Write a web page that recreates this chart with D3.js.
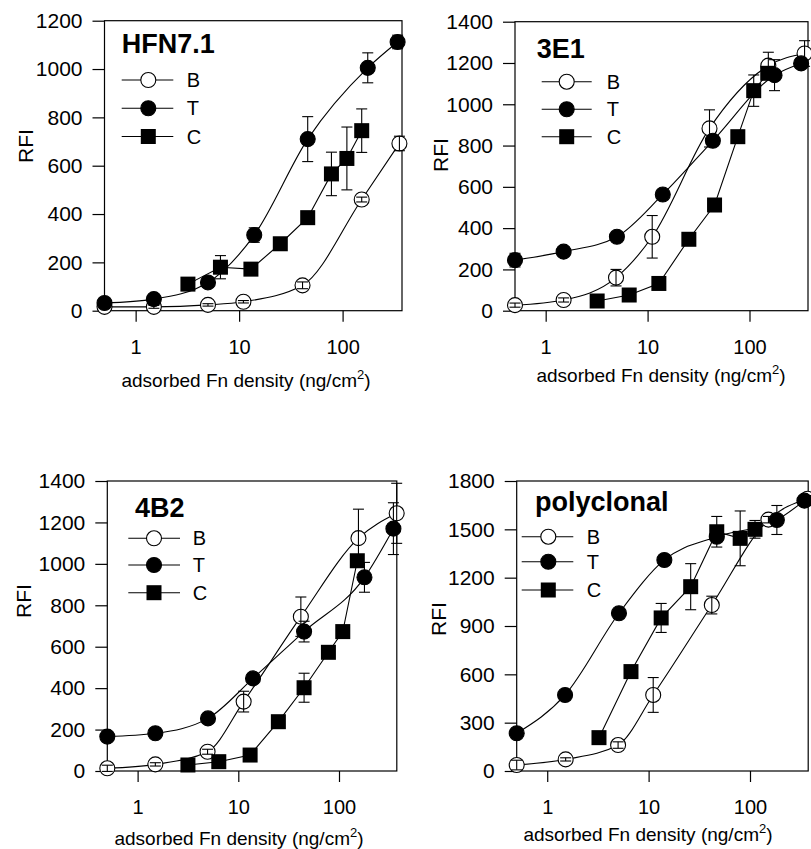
<!DOCTYPE html>
<html><head><meta charset="utf-8">
<script src="https://cdn.jsdelivr.net/npm/d3@7"></script>
<style>
body{margin:0;background:#fff}
svg{display:block}
text{font-family:"Liberation Sans",Arial,Helvetica,sans-serif;fill:#000}
</style>
</head><body>
<svg id="chart" width="811" height="849"></svg>
<script>
// ---------------- data ----------------
const xTickValues = [1, 10, 100];
const xDomain = [0.5, 375];
const seriesNames = ["B", "T", "C"];
const panelTitles = ["HFN7.1", "3E1", "4B2", "polyclonal"];
const yAxisTitle = "RFI";
const xAxisTitle = "adsorbed Fn density (ng/cm";

const yTicksHFN = [0, 200, 400, 600, 800, 1000, 1200];
const yTicks3E1 = [0, 200, 400, 600, 800, 1000, 1200, 1400];
const yTicks4B2 = [0, 200, 400, 600, 800, 1000, 1200, 1400];
const yTicksPoly = [0, 300, 600, 900, 1200, 1500, 1800];

// HFN7.1
const hfnB_x = [0.5, 1.5, 5, 11, 41, 153, 354];
const hfnB_y = [16, 16, 24, 37, 105, 460, 692];
const hfnB_e = [6, 6, 5, 5, 14, 10, 30];
const hfnT_x = [0.5, 1.5, 5, 14, 46, 175, 340];
const hfnT_y = [32, 48, 117, 313, 710, 1005, 1112];
const hfnT_e = [10, 10, 15, 30, 93, 62, 28];
const hfnC_x = [3.2, 6.6, 13, 25, 46, 78, 110, 153];
const hfnC_y = [110, 180, 172, 277, 385, 566, 630, 745];
const hfnC_e = [8, 48, 10, 20, 10, 90, 130, 90];

// 3E1
const e3B_x = [0.5, 1.5, 4.9, 11.1, 40.5, 153, 347];
const e3B_y = [27, 52, 160, 358, 883, 1187, 1246];
const e3B_e = [10, 10, 40, 103, 90, 65, 62];
const e3T_x = [0.5, 1.5, 5, 14.1, 43.7, 176, 321];
const e3T_y = [245, 286, 358, 563, 823, 1141, 1198];
const e3T_e = [33, 10, 10, 10, 20, 75, 10];
const e3C_x = [3.2, 6.6, 12.9, 25.4, 45.4, 76.8, 110, 151];
const e3C_y = [47, 76, 132, 346, 512, 843, 1066, 1150];
const e3C_e = [5, 5, 5, 10, 30, 5, 76, 20];

// 4B2
const b4B_x = [0.5, 1.5, 4.95, 11.3, 41.8, 156, 374];
const b4B_y = [13, 32, 93, 335, 745, 1124, 1244];
const b4B_e = [15, 8, 12, 50, 95, 140, 145];
const b4T_x = [0.5, 1.5, 5, 14, 45, 179, 347];
const b4T_y = [166, 182, 254, 447, 673, 935, 1170];
const b4T_e = [10, 10, 10, 10, 50, 72, 125];
const b4C_x = [3.16, 6.4, 13.1, 25, 45, 78.5, 109, 152];
const b4C_y = [29, 45, 77, 238, 402, 573, 673, 1015];
const b4C_e = [5, 5, 5, 5, 70, 5, 10, 30];

// polyclonal
const polyB_x = [0.5, 1.52, 5, 11.1, 42, 152, 370];
const polyB_y = [37, 72, 161, 472, 1030, 1560, 1690];
const polyB_e = [30, 10, 20, 108, 55, 20, 20];
const polyT_x = [0.5, 1.5, 5.1, 14.3, 47, 184, 344];
const polyT_y = [234, 472, 979, 1310, 1454, 1558, 1678];
const polyT_e = [10, 10, 10, 30, 30, 90, 30];
const polyC_x = [3.24, 6.7, 13.3, 26, 47, 80, 112];
const polyC_y = [207, 617, 950, 1144, 1485, 1444, 1500];
const polyC_e = [10, 10, 90, 143, 95, 170, 55];

// ---------------- layout ----------------
const panels = [
  {title: panelTitles[0], yTicks: yTicksHFN,
   box: {l: 104.5, t: 20.7, w: 297.5, h: 290},
   titlePos: [121.7, 53.3], legend: {x1: 121.7, x2: 173.3, xm: 148.3, xl: 186.7, rows: [80, 108.3, 136.5]},
   yTitle: [25, 146], xTitle: [246, 387],
   series: [[hfnB_x, hfnB_y, hfnB_e], [hfnT_x, hfnT_y, hfnT_e], [hfnC_x, hfnC_y, hfnC_e]]},
  {title: panelTitles[1], yTicks: yTicks3E1,
   box: {l: 515, t: 21.7, w: 293, h: 289},
   titlePos: [536.7, 58.3], legend: {x1: 541.7, x2: 591.7, xm: 566.7, xl: 606.7, rows: [81.7, 109.3, 136.7]},
   yTitle: [440, 155], xTitle: [661, 382],
   series: [[e3B_x, e3B_y, e3B_e], [e3T_x, e3T_y, e3T_e], [e3C_x, e3C_y, e3C_e]]},
  {title: panelTitles[2], yTicks: yTicks4B2,
   box: {l: 107.3, t: 481, w: 289.5, h: 290},
   titlePos: [135, 516.7], legend: {x1: 128.3, x2: 180, xm: 154, xl: 192.7, rows: [538.3, 565, 592.7]},
   yTitle: [23.3, 601], xTitle: [239, 845],
   series: [[b4B_x, b4B_y, b4B_e], [b4T_x, b4T_y, b4T_e], [b4C_x, b4C_y, b4C_e]]},
  {title: panelTitles[3], yTicks: yTicksPoly,
   box: {l: 516.7, t: 481, w: 291.5, h: 290},
   titlePos: [535, 511], legend: {x1: 521.7, x2: 573.3, xm: 548.3, xl: 586.7, rows: [536.7, 561.7, 590]},
   yTitle: [438.3, 619], xTitle: [648, 840.7],
   series: [[polyB_x, polyB_y, polyB_e], [polyT_x, polyT_y, polyT_e], [polyC_x, polyC_y, polyC_e]]}
];

const R = 7.5, SQ = 15, CAP = 5.5;
const svg = d3.select("#chart");

function drawMarker(g, kind, cx, cy) {
  if (kind === 2) {
    g.append("rect").attr("x", cx - SQ / 2).attr("y", cy - SQ / 2)
      .attr("width", SQ).attr("height", SQ).attr("fill", "#000");
  } else {
    g.append("circle").attr("cx", cx).attr("cy", cy).attr("r", R)
      .attr("fill", kind === 0 ? "#fff" : "#000")
      .attr("stroke", "#000").attr("stroke-width", 1.1);
  }
}

panels.forEach(p => {
  const b = p.box;
  const yMax = p.yTicks[p.yTicks.length - 1];
  const x = d3.scaleLog().domain(xDomain).range([b.l, b.l + b.w]);
  const y = d3.scaleLinear().domain([0, yMax]).range([b.t + b.h, b.t]);
  const g = svg.append("g");

  // frame
  g.append("rect").attr("x", b.l).attr("y", b.t).attr("width", b.w).attr("height", b.h)
    .attr("fill", "none").attr("stroke", "#000").attr("stroke-width", 1.2);

  // y axis
  const ya = g.append("g").attr("transform", `translate(${b.l},0)`)
    .call(d3.axisLeft(y).tickValues(p.yTicks).tickFormat(d3.format("d")).tickSize(12).tickSizeOuter(0).tickPadding(10));
  ya.select(".domain").remove();
  ya.selectAll("line").attr("stroke", "#000").attr("stroke-width", 1.2);
  ya.selectAll("text").style("font-size", "21px").style("font-family", '"Liberation Sans",Arial,sans-serif').attr("fill", "#000");

  // x axis
  const xa = g.append("g").attr("transform", `translate(0,${b.t + b.h})`)
    .call(d3.axisBottom(x).tickValues(xTickValues).tickFormat(d3.format("d")).tickSize(11).tickSizeOuter(0).tickPadding(18));
  xa.select(".domain").remove();
  xa.selectAll("line").attr("stroke", "#000").attr("stroke-width", 1.2);
  xa.selectAll("text").style("font-size", "20px").style("font-family", '"Liberation Sans",Arial,sans-serif').attr("fill", "#000");

  // axis titles
  g.append("text").attr("transform", `translate(${p.yTitle[0]},${p.yTitle[1]}) rotate(-90)`)
    .attr("text-anchor", "middle").attr("dominant-baseline", "central")
    .style("font-size", "21px").text(yAxisTitle);
  const xt = g.append("text").attr("x", p.xTitle[0]).attr("y", p.xTitle[1])
    .attr("text-anchor", "middle").style("font-size", "19px");
  xt.append("tspan").text(xAxisTitle);
  xt.append("tspan").attr("dy", -8).style("font-size", "13px").text("2");
  xt.append("tspan").attr("dy", 8).text(")");

  // curves
  const cg = g.append("g");
  p.series.forEach((s, i) => {
    const pts = s[0].map((xv, j) => [x(xv), y(s[1][j])]);
    const line = d3.line().curve(i === 2 ? d3.curveLinear : d3.curveMonotoneX);
    cg.append("path").attr("d", line(pts)).attr("fill", "none")
      .attr("stroke", "#000").attr("stroke-width", 1.1);
  });

  // markers
  p.series.forEach((s, i) => {
    s[0].forEach((xv, j) => drawMarker(g, i, x(xv), y(s[1][j])));
  });

  // error bars
  p.series.forEach((s, i) => {
    s[0].forEach((xv, j) => {
      const cx = x(xv), lo = y(s[1][j] - s[2][j]), hi = y(s[1][j] + s[2][j]);
      g.append("line").attr("x1", cx).attr("x2", cx).attr("y1", lo).attr("y2", hi)
        .attr("stroke", "#000").attr("stroke-width", 1.1);
      [lo, hi].forEach(yy => g.append("line").attr("x1", cx - CAP).attr("x2", cx + CAP)
        .attr("y1", yy).attr("y2", yy).attr("stroke", "#000").attr("stroke-width", 1.1));
    });
  });

  // title
  g.append("text").attr("x", p.titlePos[0]).attr("y", p.titlePos[1])
    .style("font-size", "27px").style("font-weight", "bold").text(p.title);

  // legend
  const L = p.legend;
  seriesNames.forEach((nm, i) => {
    const ry = L.rows[i];
    g.append("line").attr("x1", L.x1).attr("x2", L.x2).attr("y1", ry).attr("y2", ry)
      .attr("stroke", "#000").attr("stroke-width", 1.1);
    drawMarker(g, i, L.xm, ry);
    g.append("text").attr("x", L.xl).attr("y", ry).attr("dominant-baseline", "central")
      .style("font-size", "20px").text(nm);
  });
});
</script>
</body></html>
